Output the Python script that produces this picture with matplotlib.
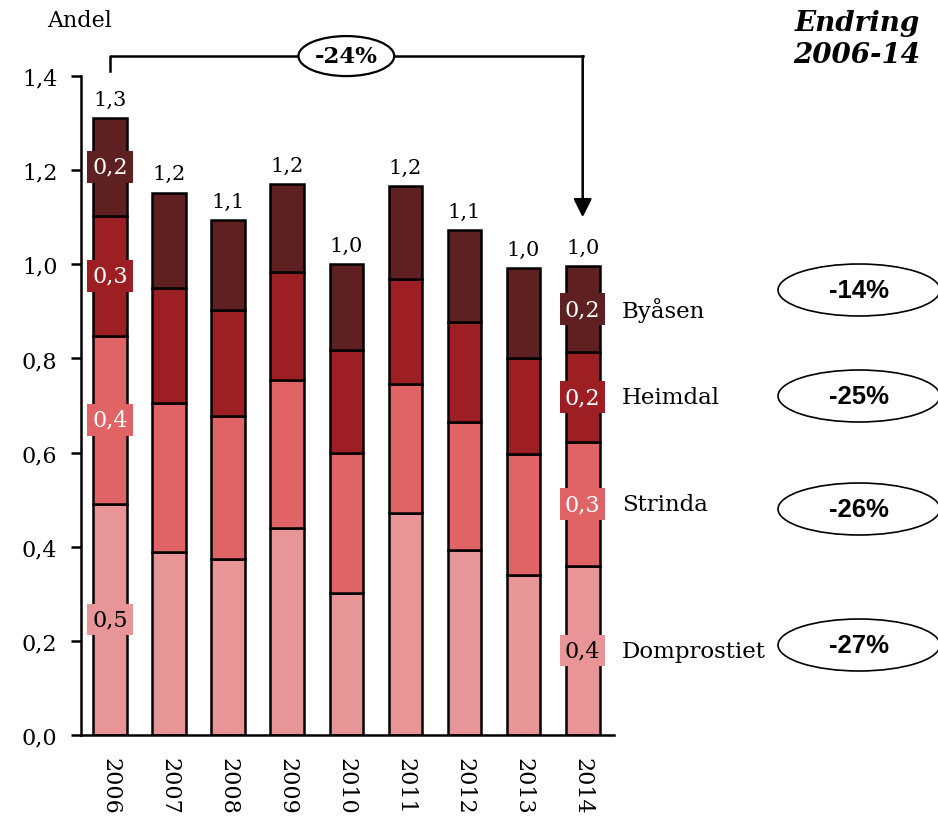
import numpy as np
import matplotlib
matplotlib.use('Agg')
import matplotlib.pyplot as plt
from matplotlib.patches import Ellipse

plt.rcParams['font.family'] = ['DejaVu Serif']

years = ['2006', '2007', '2008', '2009', '2010', '2011', '2012', '2013', '2014']
series = ['Domprostiet', 'Strinda', 'Heimdal', 'Byåsen']
domprostiet = [0.491, 0.389, 0.374, 0.440, 0.302, 0.472, 0.393, 0.340, 0.359]
strinda = [0.357, 0.316, 0.304, 0.314, 0.297, 0.274, 0.272, 0.257, 0.263]
heimdal = [0.255, 0.245, 0.225, 0.230, 0.219, 0.223, 0.212, 0.204, 0.192]
byasen = [0.208, 0.202, 0.191, 0.187, 0.183, 0.197, 0.196, 0.191, 0.182]
changes = ['-27%', '-26%', '-25%', '-14%']   # same order as series
total_change = '-24%'

colors = ['#E89597', '#E06365', '#9E1F23', '#5E2020']
label_colors = ['black', 'white', 'white', 'white']


def fmt(v):
    return f'{v:.1f}'.replace('.', ',')


values = np.array([domprostiet, strinda, heimdal, byasen])
x = np.arange(len(years))
totals = values.sum(axis=0)

fig = plt.figure(figsize=(9.38, 8.2), dpi=100)
ax = fig.add_axes([0.0864, 0.1024, 0.5682, 0.8036])

bottom = np.zeros(len(years))
for vals, c in zip(values, colors):
    ax.bar(x, vals, 0.57, bottom=bottom, color=c, edgecolor='black', linewidth=1.8, zorder=2)
    bottom += vals

ax.set_xlim(-0.49, 8.53)
ax.set_ylim(0, 1.4)
ax.set_yticks(np.arange(0, 1.41, 0.2))
ax.set_yticklabels([fmt(v) for v in np.arange(0, 1.41, 0.2)], fontsize=16)
ax.tick_params(axis='y', length=7, width=1.8, pad=10)
ax.set_xticks(x)
ax.set_xticklabels(years, rotation=270, fontsize=16, va='top')
ax.tick_params(axis='x', length=0, pad=16)
for s in ['top', 'right']:
    ax.spines[s].set_visible(False)
ax.spines['left'].set_linewidth(1.8)
ax.spines['bottom'].set_linewidth(1.8)

# totals above bars
for xi, t in zip(x, totals):
    ax.text(xi, t + 0.02, fmt(t), ha='center', va='bottom', fontsize=15)

# segment labels for first and last year
for idx in [0, len(years) - 1]:
    base = 0
    for k in range(len(series)):
        v = values[k, idx]
        ax.text(idx, base + v / 2, fmt(v), ha='center', va='center', fontsize=16,
                color=label_colors[k], zorder=4,
                bbox=dict(boxstyle='square,pad=0.22', fc=colors[k], ec='none'))
        if idx == len(years) - 1:
            ax.text(idx + 0.66, base + v / 2, series[k], ha='left', va='center',
                    fontsize=16.5, clip_on=False)
        base += v

ax.text(-0.52, 1.52, 'Andel', ha='center', va='center', fontsize=16)

# bracket with total change
ax.plot([0, 0, 8], [1.41, 1.4425, 1.4425], color='black', lw=1.8, clip_on=False)
ax.annotate('', xy=(8, 1.10), xytext=(8, 1.4425), annotation_clip=False,
            arrowprops=dict(arrowstyle='-|>,head_length=0.5,head_width=0.25',
                            mutation_scale=22, lw=1.8, color='black',
                            shrinkA=0, shrinkB=0))
ax.add_patch(Ellipse((4, 1.4425), 1.62, 0.085, fc='white', ec='black', lw=1.6,
                     clip_on=False, zorder=5))
ax.text(4, 1.4425, total_change, ha='center', va='center', fontsize=16.5,
        fontweight='bold', zorder=6, clip_on=False)

# change per series
fig.text(0.981, 0.988, 'Endring\n2006-14', ha='right', va='top', fontsize=20,
         fontweight='bold', style='italic', linespacing=1.25)
ell_y = [646, 510, 397, 291]
for yy, ch in zip(ell_y, changes):
    yf = 1 - yy / 820
    fig.patches.append(Ellipse((0.9158, yf), 0.1727, 0.0634, transform=fig.transFigure,
                               fc='white', ec='black', lw=1.2))
    fig.text(0.9158, yf, ch, ha='center', va='center', fontsize=18.5,
             fontweight='bold', family='Liberation Sans')

fig.savefig('out.png', dpi=100)
